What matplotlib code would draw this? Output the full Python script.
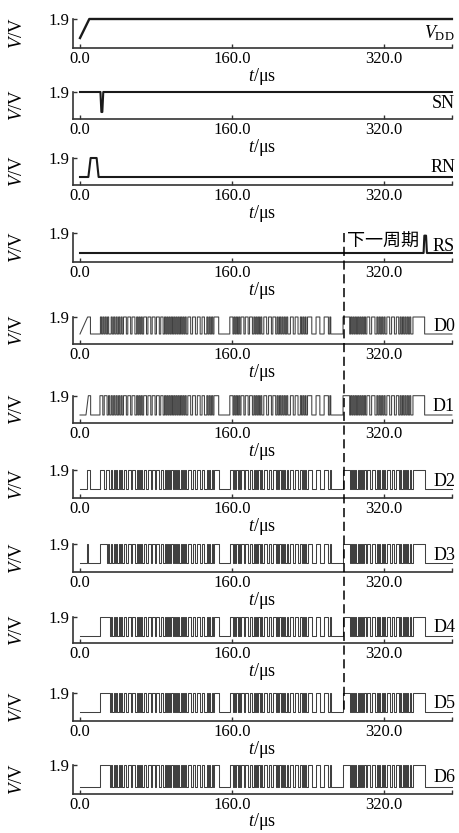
import matplotlib
matplotlib.use("Agg")
import matplotlib.pyplot as plt
from matplotlib.transforms import blended_transform_factory
from matplotlib.lines import Line2D

plt.rcParams['font.family'] = ['Liberation Serif', 'DejaVu Serif']
plt.rcParams['mathtext.fontset'] = 'custom'
plt.rcParams['mathtext.rm'] = 'Liberation Serif'
plt.rcParams['mathtext.it'] = 'Liberation Serif:italic'

# ---------------- data ----------------
T_END = 391.5
VDD_T = [0, 9.8, T_END]
VDD_V = [0, 1.9, 1.9]
SN_T = [0, 21.5, 22.5, 23.5, 24.5, T_END]
SN_V = [1.9, 1.9, 0, 0, 1.9, 1.9]
RN_T = [0, 8.8, 11.2, 17.5, 19.6, T_END]
RN_V = [0, 0, 1.9, 1.9, 0, 0]
RS_T = [0, 361.7, 362.5, 364.3, 365.2, T_END]
RS_V = [0, 0, 1.65, 1.65, 0, 0]

# high intervals (µs) shared by all digital outputs
COMMON_HIGH = [
    (32.8, 34.0), (35.4, 36.6), (38.0, 39.2), (40.6, 41.8), (43.2, 44.4),
    (45.8, 48.8), (50.3, 53.3), (54.8, 57.8),
    (59.6, 60.8), (62.0, 63.2), (64.4, 65.6),
    (67.0, 70.0), (71.5, 74.5), (76.0, 79.0), (80.5, 83.5),
    (85.0, 87.5), (89.0, 90.2), (91.4, 92.6), (93.8, 95.0), (96.2, 97.4),
    (98.6, 99.8), (101.0, 102.2), (103.4, 104.6), (105.8, 107.0),
    (108.2, 109.4), (110.6, 111.8),
    (113.5, 116.5), (118.5, 121.5), (123.5, 126.5), (128.5, 131.0),
    (133.5, 134.7), (136.0, 137.2), (138.5, 139.7),
    (141.0, 146.0),
    (157.7, 161.0), (162.2, 163.4), (164.6, 165.8), (167.0, 168.2),
    (169.5, 172.5), (174.0, 177.0), (178.5, 181.5),
    (183.0, 184.2), (185.4, 186.6), (187.8, 189.0), (190.2, 191.4),
    (193.5, 196.5), (198.5, 201.5), (203.0, 206.0),
    (207.5, 208.7), (210.0, 211.2), (212.5, 213.7), (215.0, 216.2), (217.5, 218.7),
    (221.5, 224.5), (226.5, 229.5),
    (232.0, 233.2), (234.5, 235.7), (237.0, 238.0),
    (239.5, 244.0), (248.5, 252.5), (257.0, 261.5), (263.0, 264.0),
    (276.9, 283.9), (285.0, 286.2), (287.4, 288.6), (289.8, 291.0),
    (292.2, 293.4), (294.6, 295.8), (297.0, 298.2), (299.4, 300.6),
    (302.0, 305.0), (307.0, 310.5),
    (312.5, 313.7), (315.0, 316.2), (317.5, 318.7), (320.0, 321.2),
    (323.0, 326.0), (328.0, 331.0), (333.0, 335.5),
    (337.0, 338.2), (339.5, 340.7), (342.0, 343.2), (344.5, 345.7), (347.0, 348.2),
    (350.5, 362.8),
]

D_START = {
    'D0': [(0, 0), (8.0, 1.9), (11.0, 1.9), (11.0, 0)],
    'D1': [(0, 0), (6.3, 0), (8.8, 1.9), (11.2, 1.9), (11.2, 0)],
    'D2': [(0, 0), (7.7, 0), (7.7, 1.9), (10.5, 1.9), (10.5, 0)],
    'D3': [(0, 0), (7.5, 0), (7.5, 1.9), (8.0, 1.9), (8.0, 0)],
    'D4': [(0, 0)],
    'D5': [(0, 0)],
    'D6': [(0, 0)],
}
D_BLOCK = {
    'D0': [(21.5, 22.7), (24.0, 25.2), (26.5, 27.7), (29.0, 30.2)],
    'D1': [(21.0, 24.0), (25.5, 28.5), (30.0, 31.2)],
    'D2': [(21.0, 25.0), (27.0, 30.5)],
    'D3': [(21.0, 28.0), (29.5, 30.7)],
    'D4': [(21.0, 31.5)],
    'D5': [(21.0, 32.0)],
    'D6': [(21.0, 32.0)],
}

X_TICKS = [0, 160, 320]
X_TICKLABELS = ['0.0', '160.0', '320.0']
NEXT_PERIOD_T = 278.0

# ---------------- layout (pixels) ----------------
W, H = 459, 833
X0, X1 = 73, 452
XLIM = (-7.37, 391.6)
panels = ['VDD', 'SN', 'RN', 'RS', 'D0', 'D1', 'D2', 'D3', 'D4', 'D5', 'D6']
top_px = [19, 92, 158, 233, 317, 395.7, 470, 544, 617, 693, 765]
low_px = [38, 112, 177, 253, 334, 415, 489, 563, 635.7, 712, 787]
bot_px = [48, 119, 185, 262, 344, 422.7, 497.7, 571.7, 642.7, 721, 794]

fig = plt.figure(figsize=(W / 100, H / 100), dpi=100)
fs = 12
lab_fs = 13
axes = []
for i, name in enumerate(panels):
    top, low, bot = top_px[i], low_px[i], bot_px[i]
    h = bot - top
    ax = fig.add_axes([X0 / W, 1 - bot / H, (X1 - X0) / W, h / H])
    ymin = -1.9 * (bot - low) / (low - top)
    ax.set_xlim(*XLIM)
    ax.set_ylim(ymin, 1.9)
    for s in ['top', 'right']:
        ax.spines[s].set_visible(False)
    for s in ['left', 'bottom']:
        ax.spines[s].set_linewidth(1.2)
        ax.spines[s].set_color('#333333')
    ax.set_xticks(X_TICKS + [XLIM[1]])
    ax.set_xticklabels(X_TICKLABELS + [''])
    ax.set_yticks([1.9])
    ax.set_yticklabels(['1.9'])
    ax.tick_params(axis='both', direction='in', length=3, width=1.0,
                   color='#333333', labelsize=fs)
    ax.tick_params(axis='x', pad=2.5)
    ax.tick_params(axis='y', pad=2.5)
    ax.set_xlabel(r'$\mathit{t}$/μs', fontsize=lab_fs)
    ax.xaxis.set_label_coords(0.5, -(16.5 if name == 'D6' else 18) / h)
    ax.set_ylabel(r'$\mathit{V}$/V', fontsize=13.5)
    ax.yaxis.set_label_coords((26 - X0) / (X1 - X0), 0.5)
    ax.patch.set_alpha(0)
    btr = blended_transform_factory(ax.transAxes, ax.transData)

    if name == 'VDD':
        ax.plot(VDD_T, VDD_V, color='#1a1a1a', lw=1.7, clip_on=False)
        ax.text(1.008, 0.45, r'$V_{\mathrm{DD}}$', transform=btr,
                ha='right', va='center', fontsize=13)
    elif name == 'SN':
        ax.plot(SN_T, SN_V, color='#1a1a1a', lw=1.5, clip_on=False)
        ax.text(1.008, 0.85, 'SN', transform=btr, ha='right', va='center', fontsize=13)
    elif name == 'RN':
        ax.plot(RN_T, RN_V, color='#1a1a1a', lw=1.5, clip_on=False)
        ax.text(1.008, 1.0, 'RN', transform=btr, ha='right', va='center', fontsize=13)
    elif name == 'RS':
        ax.plot(RS_T, RS_V, color='#1a1a1a', lw=1.5, clip_on=False)
        ax.text(1.008, 0.65, 'RS', transform=btr, ha='right', va='center', fontsize=13)
        ax.text(280.7, 1.05, '下一周期', ha='left', va='center', fontsize=13,
                family=['Noto Sans CJK SC', 'DejaVu Sans'])
    else:
        pts = list(D_START[name])
        for a, b in D_BLOCK[name] + COMMON_HIGH:
            pts += [(a, 0), (a, 1.9), (b, 1.9), (b, 0)]
        pts.append((T_END, 0))
        xs = [p[0] for p in pts]
        ys = [p[1] for p in pts]
        ax.plot(xs, ys, color='#404040', lw=0.75, clip_on=False)
        ax.text(1.008, 0.8, name, transform=btr, ha='right', va='center', fontsize=13)
    axes.append(ax)

# dashed "next period" line spanning RS .. D5
ax_rs = axes[3]
tr = blended_transform_factory(ax_rs.transData, fig.transFigure)
fig.add_artist(Line2D([NEXT_PERIOD_T, NEXT_PERIOD_T], [1 - 233 / H, 1 - 713 / H],
                      transform=tr, color='black', lw=1.1, linestyle=(0, (6, 3))))

fig.savefig('out.png', dpi=100)
